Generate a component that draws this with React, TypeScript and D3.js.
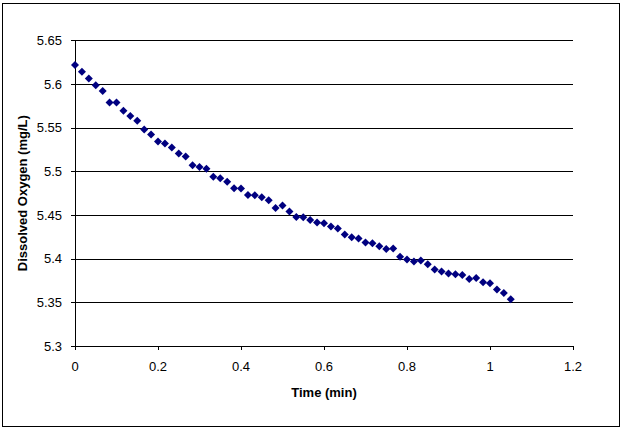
import React from "react";
import * as d3 from "d3";

const doValues: number[] = [
  5.6218, 5.614, 5.6065, 5.5985, 5.592, 5.579, 5.579, 5.5694, 5.5633, 5.558,
  5.548, 5.5423, 5.5343, 5.532, 5.5274, 5.5205, 5.517, 5.507, 5.505, 5.503,
  5.4937, 5.492, 5.488, 5.4807, 5.4804, 5.473, 5.4727, 5.4704, 5.467, 5.4581,
  5.461, 5.454, 5.4478, 5.4475, 5.4444, 5.4414, 5.4406, 5.4368, 5.4345, 5.4276,
  5.4245, 5.423, 5.4185, 5.4177, 5.4141, 5.411, 5.4118, 5.4022, 5.399, 5.3967,
  5.3978, 5.3936, 5.3875, 5.3852, 5.3829, 5.3821, 5.3813, 5.3767, 5.3779, 5.3729,
  5.3718, 5.3646, 5.3607, 5.3534,
];
const timeValues: number[] = doValues.map((_, i) => i / 60);
const xTicks: number[] = [0, 0.2, 0.4, 0.6, 0.8, 1, 1.2];
const yTicks: number[] = [5.3, 5.35, 5.4, 5.45, 5.5, 5.55, 5.6, 5.65];

const W = 624;
const H = 431;
const left = 75;
const right = 573;
const top = 40.4;
const bottom = 346;
const font = "'Liberation Sans', Arial, sans-serif";

export default function App() {
  const x = d3.scaleLinear().domain([0, 1.2]).range([left, right]);
  const y = d3.scaleLinear().domain([5.3, 5.65]).range([bottom, top]);
  const diamond = (cx: number, cy: number) => {
    const r = 4;
    return `M${cx},${cy - r}L${cx + r},${cy}L${cx},${cy + r}L${cx - r},${cy}Z`;
  };
  return (
    <svg
      width={W}
      height={H}
      style={{ position: "absolute", left: 0, top: 0, background: "#fff" }}
      fontFamily={font}
    >
      <rect x={2.5} y={3.5} width={617} height={423} fill="#fff" stroke="#000" strokeWidth={1} />
      {yTicks.slice(1).map((t) => (
        <line key={"g" + t} x1={left} x2={right} y1={Math.round(y(t)) + 0.5} y2={Math.round(y(t)) + 0.5} stroke="#000" />
      ))}
      {yTicks.map((t) => (
        <line key={"yt" + t} x1={left - 4} x2={left} y1={Math.round(y(t)) + 0.5} y2={Math.round(y(t)) + 0.5} stroke="#000" />
      ))}
      {yTicks.map((t) => (
        <text key={"yl" + t} x={left - 13} y={y(t)} dy="0.35em" textAnchor="end" fontSize={13} fill="#000">
          {d3.format("")(+t.toFixed(2))}
        </text>
      ))}
      <line x1={left + 0.5} x2={left + 0.5} y1={top} y2={bottom} stroke="#000" />
      <line x1={left} x2={right} y1={bottom + 0.5} y2={bottom + 0.5} stroke="#000" />
      {xTicks.map((t) => (
        <line key={"xt" + t} x1={Math.round(x(t)) + 0.5} x2={Math.round(x(t)) + 0.5} y1={bottom} y2={bottom + 4} stroke="#000" />
      ))}
      {xTicks.map((t) => (
        <text key={"xl" + t} x={x(t)} y={bottom + 25} textAnchor="middle" fontSize={13} fill="#000">
          {String(t)}
        </text>
      ))}
      <text x={(left + right) / 2} y={397} textAnchor="middle" fontSize={13} fontWeight="bold" fill="#000">
        Time (min)
      </text>
      <text
        transform={`translate(27,${(top + bottom) / 2}) rotate(-90)`}
        textAnchor="middle"
        fontSize={13}
        fontWeight="bold"
        fill="#000"
      >
        Dissolved Oxygen (mg/L)
      </text>
      {doValues.map((v, i) => (
        <path key={"p" + i} d={diamond(x(timeValues[i]), y(v))} fill="#000080" />
      ))}
    </svg>
  );
}
